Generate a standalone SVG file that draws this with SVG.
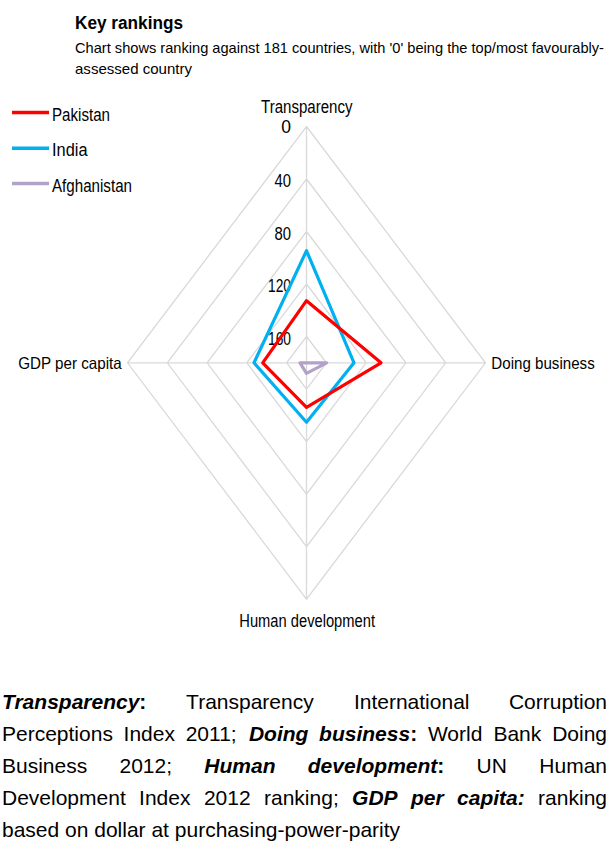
<svg xmlns="http://www.w3.org/2000/svg" width="613" height="841" viewBox="0 0 613 841">
<style>
.t{font-family:"Liberation Sans",Arial,sans-serif;fill:#000}
.c{font-size:17.5px}
.f{font-size:21px}
.b{font-weight:bold}
.bi{font-weight:bold;font-style:italic}
.grid{fill:none;stroke:#d9d9d9;stroke-width:1.3}
.s{fill:none;stroke-width:3.2;stroke-linejoin:round}
</style>
<rect width="613" height="841" fill="#fff"/>
<g id="title">
<text class="t b" x="75" y="29" font-size="18" textLength="108" lengthAdjust="spacingAndGlyphs">Key rankings</text>
<text class="t" x="75" y="53" font-size="14.5" textLength="529" lengthAdjust="spacingAndGlyphs">Chart shows ranking against 181 countries, with '0' being the top/most favourably-</text>
<text class="t" x="75" y="74" font-size="14.5" textLength="117" lengthAdjust="spacingAndGlyphs">assessed country</text>
</g>
<g id="legend">
<line x1="12" y1="112.5" x2="49" y2="112.5" stroke="#ff0000" stroke-width="3.5"/>
<line x1="12" y1="148.3" x2="49" y2="148.3" stroke="#00b0f0" stroke-width="3.5"/>
<line x1="12" y1="183.5" x2="49" y2="183.5" stroke="#b3a2c7" stroke-width="3.5"/>
<text class="t c" x="52" y="120.5" textLength="58" lengthAdjust="spacingAndGlyphs">Pakistan</text>
<text class="t c" x="52" y="156.3" textLength="35.5" lengthAdjust="spacingAndGlyphs">India</text>
<text class="t c" x="52" y="191.5" textLength="80" lengthAdjust="spacingAndGlyphs">Afghanistan</text>
</g>
<g id="grid">
<path class="grid" d="M306.5,126.5L485.5,362.8L306.5,599.1L127.5,362.8Z M306.5,179L445.7,362.8L306.5,546.6L167.3,362.8Z M306.5,231.5L405.9,362.8L306.5,494.1L207.1,362.8Z M306.5,284L366.2,362.8L306.5,441.6L246.8,362.8Z M306.5,336.5L326.4,362.8L306.5,389.1L286.6,362.8Z M306.5,126.5V599.1 M127.5,362.8H485.5"/>
</g>
<g id="ticks">
<text class="t c" x="291" y="133.3" text-anchor="end">0</text>
<text class="t c" x="291" y="186.7" text-anchor="end" textLength="16.5" lengthAdjust="spacingAndGlyphs">40</text>
<text class="t c" x="291" y="239.5" text-anchor="end" textLength="16.5" lengthAdjust="spacingAndGlyphs">80</text>
<text class="t c" x="291" y="292" text-anchor="end" textLength="23" lengthAdjust="spacingAndGlyphs">120</text>
<text class="t c" x="291" y="345" text-anchor="end" textLength="23" lengthAdjust="spacingAndGlyphs">160</text>
</g>
<g id="axis-labels">
<text id="lbl-transparency" class="t c" x="261" y="112.7" textLength="91.5" lengthAdjust="spacingAndGlyphs">Transparency</text>
<text id="lbl-doing" class="t" font-size="16.5" x="491.3" y="369.3" textLength="103.4" lengthAdjust="spacingAndGlyphs">Doing business</text>
<text id="lbl-human" class="t c" x="239.3" y="627.3" textLength="135.7" lengthAdjust="spacingAndGlyphs">Human development</text>
<text id="lbl-gdp" class="t" font-size="16.5" x="18.3" y="369.3" textLength="103.4" lengthAdjust="spacingAndGlyphs">GDP per capita</text>
</g>
<g id="series">
<polygon id="india" class="s" stroke="#00b0f0" points="306.5,250.7 354,362.8 306.5,422.3 254,362.8"/>
<polygon id="pakistan" class="s" stroke="#ff0000" points="306.5,300.7 381,362.8 306.5,407.3 262.7,362.8"/>
<polygon id="afghanistan" class="s" stroke="#b3a2c7" points="306.5,362.8 326.7,362.8 306.5,373.3 300,362.8"/>
</g>
<g id="footer">
<text class="t f bi" x="2" y="708.5">Transparency<tspan class="b" font-style="normal">:</tspan></text>
<text class="t f" x="186.1" y="708.5">Transparency</text>
<text class="t f" x="353.9" y="708.5">International</text>
<text class="t f" x="607" y="708.5" text-anchor="end">Corruption</text>
<text class="t f" x="2" y="740.5">Perceptions</text>
<text class="t f" x="123.6" y="740.5">Index</text>
<text class="t f" x="185.7" y="740.5">2011;</text>
<text class="t f bi" x="248.9" y="740.5">Doing</text>
<text class="t f bi" x="319.1" y="740.5">business<tspan font-style="normal">:</tspan></text>
<text class="t f" x="427.9" y="740.5">World</text>
<text class="t f" x="493.4" y="740.5">Bank</text>
<text class="t f" x="607" y="740.5" text-anchor="end">Doing</text>
<text class="t f" x="2" y="772.5">Business</text>
<text class="t f" x="119.5" y="772.5">2012;</text>
<text class="t f bi" x="204.3" y="772.5">Human</text>
<text class="t f bi" x="307.8" y="772.5">development<tspan font-style="normal">:</tspan></text>
<text class="t f" x="476.6" y="772.5">UN</text>
<text class="t f" x="607" y="772.5" text-anchor="end">Human</text>
<text class="t f" x="2" y="804.5">Development</text>
<text class="t f" x="139.1" y="804.5">Index</text>
<text class="t f" x="203.9" y="804.5">2012</text>
<text class="t f" x="264" y="804.5">ranking;</text>
<text class="t f bi" x="352.1" y="804.5">GDP</text>
<text class="t f bi" x="411" y="804.5">per</text>
<text class="t f bi" x="457.1" y="804.5">capita:</text>
<text class="t f" x="607" y="804.5" text-anchor="end">ranking</text>
<text class="t f" x="2" y="836.5">based on dollar at purchasing-power-parity</text>
</g>
</svg>
